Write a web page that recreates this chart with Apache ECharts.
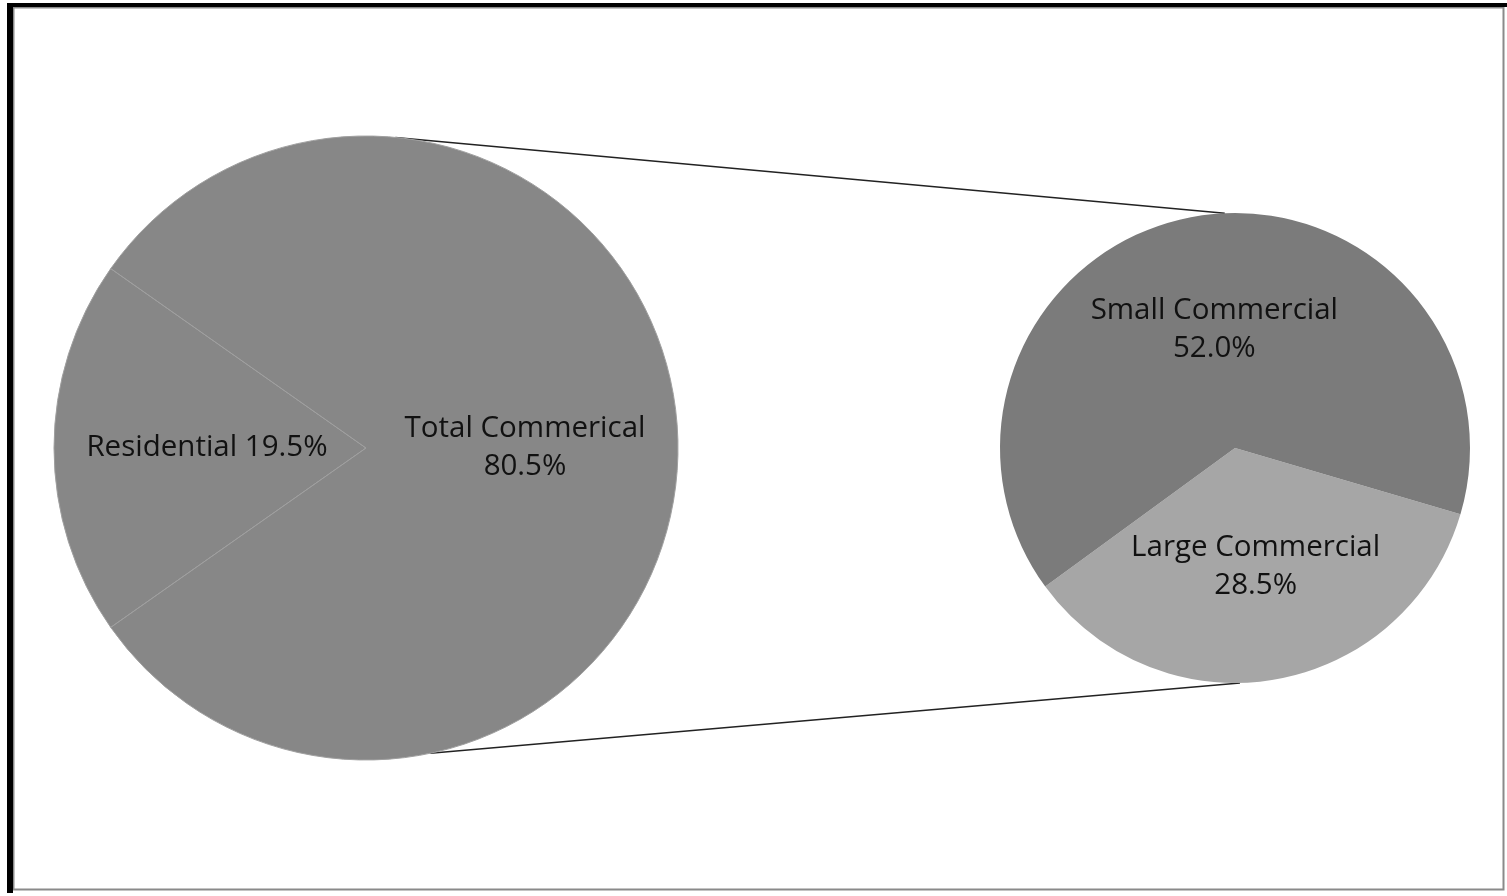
<!DOCTYPE html>
<html>
<head>
<meta charset="utf-8">
<script src="https://cdn.jsdelivr.net/npm/echarts@6/dist/echarts.min.js"></script>
<style>
  html, body { margin: 0; padding: 0; background: #fff; }
  #chart { width: 1507px; height: 896px; }
</style>
</head>
<body>
<div id="chart"></div>
<script>
// Primary pie: residential vs. the combined commercial share
const mainNames = ['Residential', 'Total Commerical'];
const mainValues = [19.5, 80.5];
// Secondary pie: breakdown of the commercial share
const subNames = ['Large Commercial', 'Small Commercial'];
const subValues = [28.5, 52.0];

const mainPie = { cx: 366, cy: 448, r: 312, color: '#878787' };
const subPie = { cx: 1235, cy: 448, r: 235 };
const subColors = ['#a6a6a6', '#7b7b7b'];

// Residential slice is centred on the left side of the primary pie
const mainStart = 180 + (mainValues[0] / 100) * 360 / 2;
// Large Commercial slice sits at the bottom of the secondary pie
const subStart = -16.4;

// Connector endpoints, as angles (degrees, counter-clockwise from 3 o'clock)
const connectors = [
  { from: 84.6, to: 92.5 },
  { from: -78.1, to: -88.8 }
];
function onCircle(p, deg) {
  const a = deg * Math.PI / 180;
  return [p.cx + p.r * Math.cos(a), p.cy - p.r * Math.sin(a)];
}

const labelFont = { fontFamily: 'Open Sans', fontSize: 29.5, color: '#111', lineHeight: 38 };

const chart = echarts.init(document.getElementById('chart'), null, { renderer: 'canvas' });

const graphics = [
  // frame: thin grey outline with a heavier dark edge at top and left
  { type: 'rect', shape: { x: 13.5, y: 7.5, width: 1490, height: 882 },
    style: { fill: null, stroke: '#8a8a8a', lineWidth: 2 }, z: 10 },
  { type: 'rect', shape: { x: 7, y: 3, width: 6, height: 890 }, style: { fill: '#000' }, z: 10 },
  { type: 'rect', shape: { x: 7, y: 3, width: 1500, height: 4 }, style: { fill: '#000' }, z: 10 }
];
connectors.forEach(c => {
  const p1 = onCircle(mainPie, c.from);
  const p2 = onCircle(subPie, c.to);
  graphics.push({
    type: 'line',
    shape: { x1: p1[0], y1: p1[1], x2: p2[0], y2: p2[1] },
    style: { stroke: '#222', lineWidth: 1.5 },
    z: 1
  });
});

chart.setOption({
  animation: false,
  backgroundColor: '#fff',
  graphic: graphics,
  series: [
    {
      type: 'pie',
      center: [mainPie.cx, mainPie.cy],
      radius: [0, mainPie.r],
      startAngle: mainStart,
      clockwise: true,
      z: 3,
      itemStyle: { color: mainPie.color, borderColor: '#a0a0a0', borderWidth: 1 },
      label: {
        position: 'inside',
        ...labelFont,
        formatter: p => p.dataIndex === 0
          ? p.name + ' ' + p.value.toFixed(1) + '%'
          : p.name + '\n' + p.value.toFixed(1) + '%'
      },
      labelLine: { show: false },
      emphasis: { disabled: true },
      data: mainNames.map((n, i) => ({ name: n, value: mainValues[i] }))
    },
    {
      type: 'pie',
      center: [subPie.cx, subPie.cy],
      radius: [0, subPie.r],
      startAngle: subStart,
      clockwise: true,
      z: 3,
      itemStyle: { borderWidth: 0 },
      label: {
        position: 'inside',
        ...labelFont,
        formatter: p => p.name + '\n' + p.value.toFixed(1) + '%'
      },
      labelLine: { show: false },
      emphasis: { disabled: true },
      data: subNames.map((n, i) => ({ name: n, value: subValues[i], itemStyle: { color: subColors[i] } }))
    }
  ]
});
</script>
</body>
</html>
